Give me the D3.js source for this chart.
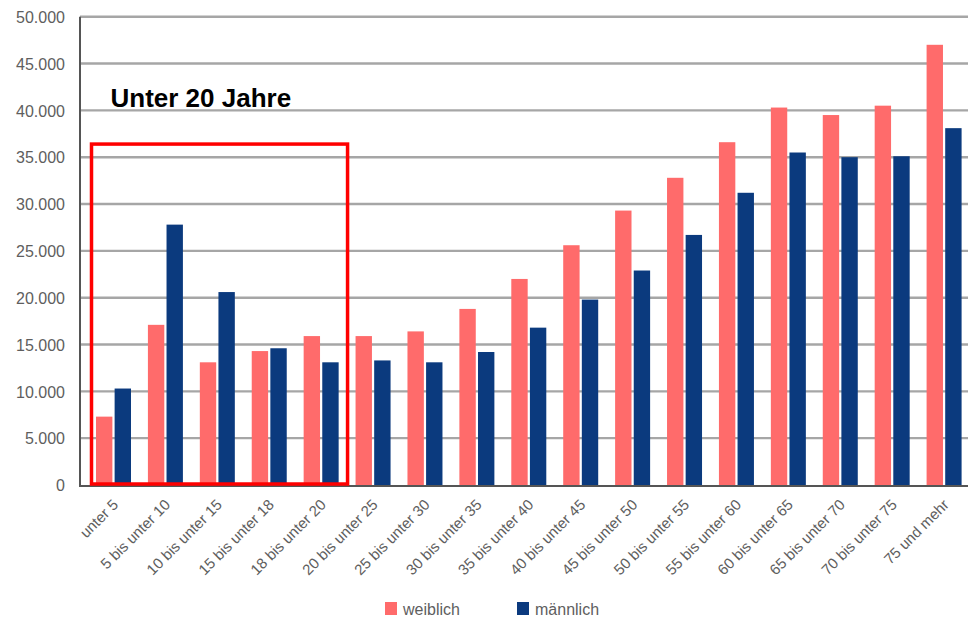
<!DOCTYPE html>
<html>
<head>
<meta charset="utf-8">
<script src="https://cdn.jsdelivr.net/npm/d3@7"></script>
<style>
  html, body { margin: 0; padding: 0; background: #fff; }
  svg { display: block; font-family: "Liberation Sans", Arial, sans-serif; }
</style>
</head>
<body>
<svg id="chart" width="968" height="618"></svg>
<script>
// Altersgruppen
const categories = [
  "unter 5", "5 bis unter 10", "10 bis unter 15", "15 bis unter 18", "18 bis unter 20",
  "20 bis unter 25", "25 bis unter 30", "30 bis unter 35", "35 bis unter 40",
  "40 bis unter 45", "45 bis unter 50", "50 bis unter 55", "55 bis unter 60",
  "60 bis unter 65", "65 bis unter 70", "70 bis unter 75", "75 und mehr"
];
const weiblich = [7300, 17100, 13100, 14300, 15900, 15900, 16400, 18800, 22000,
  25600, 29300, 32800, 36600, 40300, 39500, 40500, 47000];
const maennlich = [10300, 27800, 20600, 14600, 13100, 13300, 13100, 14200, 16800,
  19800, 22900, 26700, 31200, 35500, 35000, 35100, 38100];
const seriesNames = ["weiblich", "männlich"];
const seriesColors = ["#ff6b6b", "#0b3a7e"];
const yTicks = [0, 5000, 10000, 15000, 20000, 25000, 30000, 35000, 40000, 45000, 50000];
const highlightGroups = ["unter 5", "18 bis unter 20"];
const highlightLabel = "Unter 20 Jahre";

const svg = d3.select("#chart");
const W = 968;

const x0 = d3.scaleBand().domain(categories).range([87.5, 970]).paddingInner(0).paddingOuter(0);
const x1 = d3.scaleBand().domain(seriesNames).range([8.5, 43.5]).paddingInner(0.12);
const y = d3.scaleLinear().domain([0, 50000]).range([485, 16.7]);

const fmt = v => d3.format(",")(v).replace(/,/g, ".");

// horizontal gridlines
svg.append("g")
  .selectAll("line")
  .data(yTicks.filter(d => d > 0))
  .join("line")
  .attr("x1", 80).attr("x2", W)
  .attr("y1", d => y(d)).attr("y2", d => y(d))
  .attr("stroke", "#a6a6a6").attr("stroke-width", 2.4);

// y axis labels
const yAxis = d3.axisLeft(y).tickValues(yTicks).tickFormat(fmt).tickSize(0).tickPadding(15);
const gy = svg.append("g").attr("transform", "translate(80,0)").call(yAxis);
gy.select(".domain").remove();
gy.selectAll("text")
  .attr("fill", "#5e5e5e")
  .style("font-size", "16px")
  .attr("dy", "0.36em");

// bars
const rows = categories.map((c, i) => ({ cat: c, values: [weiblich[i], maennlich[i]] }));
const groups = svg.append("g")
  .selectAll("g")
  .data(rows)
  .join("g")
  .attr("transform", d => `translate(${x0(d.cat)},0)`);
groups.selectAll("rect")
  .data(d => d.values.map((v, k) => ({ key: seriesNames[k], v, k })))
  .join("rect")
  .attr("x", d => x1(d.key))
  .attr("width", x1.bandwidth())
  .attr("y", d => y(d.v))
  .attr("height", d => y(0) - y(d.v))
  .attr("fill", d => seriesColors[d.k]);

// axis lines
svg.append("line")
  .attr("x1", 80).attr("x2", 80).attr("y1", y(50000)).attr("y2", y(0) + 1)
  .attr("stroke", "#555").attr("stroke-width", 2);
svg.append("line")
  .attr("x1", 79).attr("x2", W).attr("y1", y(0) + 1).attr("y2", y(0) + 1)
  .attr("stroke", "#555").attr("stroke-width", 2);

// x axis labels
svg.append("g")
  .selectAll("text")
  .data(categories)
  .join("text")
  .attr("transform", d => `translate(${x0(d) + x0.bandwidth() / 2 + 2},${y(0) + 17}) rotate(-45)`)
  .attr("text-anchor", "end")
  .attr("dy", "0.35em")
  .attr("fill", "#5e5e5e")
  .style("font-size", "15px")
  .text(d => d);

// highlight box around the under-20 groups
const hx0 = x0(highlightGroups[0]) + 4;
const hx1 = x0(highlightGroups[1]) + x0.bandwidth() + 0.5;
svg.append("rect")
  .attr("x", hx0).attr("y", y(36400))
  .attr("width", hx1 - hx0).attr("height", y(0) - 1 - y(36400))
  .attr("fill", "none")
  .attr("stroke", "#ff0000")
  .attr("stroke-width", 3.5);

svg.append("text")
  .attr("x", 110.5).attr("y", 106.5)
  .attr("font-weight", "bold")
  .style("font-size", "26px")
  .attr("fill", "#000")
  .text(highlightLabel);

// legend
const legendX = [385, 517];
const legend = svg.append("g")
  .selectAll("g")
  .data(seriesNames)
  .join("g")
  .attr("transform", (d, i) => `translate(${legendX[i]},602)`);
legend.append("rect")
  .attr("width", 12).attr("height", 13)
  .attr("fill", (d, i) => seriesColors[i]);
legend.append("text")
  .attr("x", 18).attr("y", 12.5)
  .attr("fill", "#5e5e5e")
  .style("font-size", "16px")
  .text(d => d);
</script>
</body>
</html>
